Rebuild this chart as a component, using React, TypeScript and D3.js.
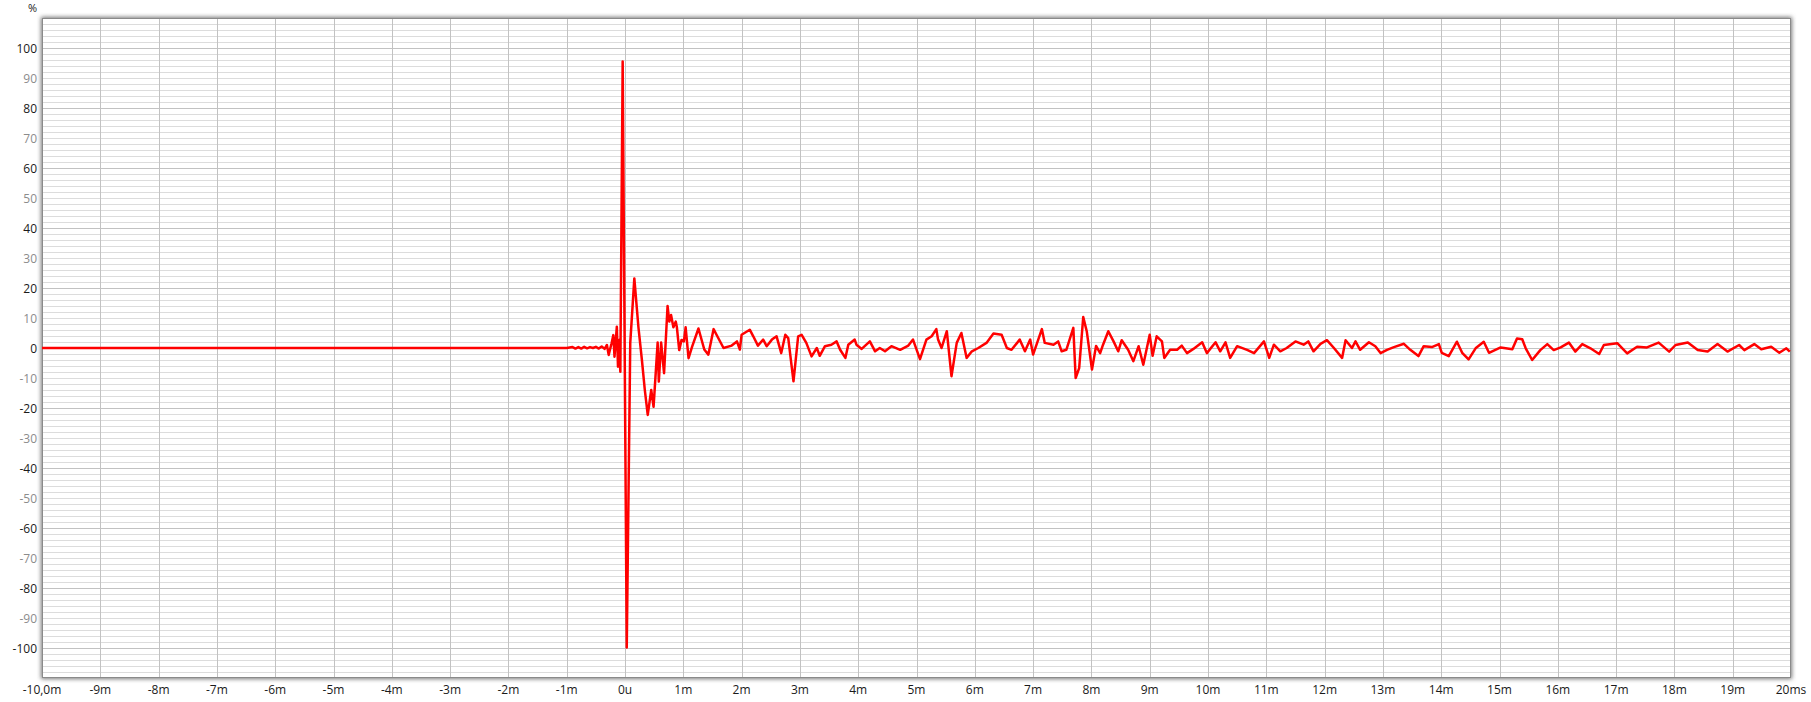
import * as d3 from "d3";
import { useEffect, useRef } from "react";

// impulse response, time in ms, amplitude in %
const times = [
  -10, -1.0, -0.9, -0.85, -0.8, -0.75, -0.7, -0.65, -0.6, -0.55, -0.5, -0.45,
  -0.4, -0.35, -0.31, -0.28, -0.23, -0.2, -0.18, -0.14, -0.12, -0.1, -0.08,
  -0.04, 0.03, 0.09, 0.16, 0.23, 0.29, 0.34, 0.39, 0.45, 0.49, 0.56, 0.58,
  0.62, 0.67, 0.73, 0.76, 0.79, 0.83, 0.87, 0.89, 0.93, 0.97, 1.01, 1.04,
  1.09, 1.15, 1.26, 1.36, 1.43, 1.52, 1.57, 1.69, 1.83, 1.92, 1.97, 2.0,
  2.14, 2.2, 2.28, 2.37, 2.43, 2.52, 2.6, 2.68, 2.75, 2.8, 2.89, 2.97, 3.03,
  3.11, 3.2, 3.29, 3.34, 3.43, 3.54, 3.63, 3.69, 3.78, 3.83, 3.94, 3.97,
  4.06, 4.2, 4.29, 4.37, 4.46, 4.57, 4.72, 4.86, 4.94, 5.06, 5.17, 5.26,
  5.34, 5.37, 5.43, 5.52, 5.6, 5.69, 5.77, 5.86, 5.95, 6.06, 6.2, 6.32,
  6.46, 6.55, 6.63, 6.77, 6.86, 6.95, 7.0, 7.15, 7.2, 7.35, 7.43, 7.49,
  7.57, 7.69, 7.73, 7.79, 7.86, 7.92, 8.01, 8.08, 8.15, 8.2, 8.29, 8.38,
  8.46, 8.52, 8.63, 8.72, 8.81, 8.89, 9.0, 9.05, 9.12, 9.21, 9.25, 9.35,
  9.47, 9.55, 9.64, 9.75, 9.9, 9.98, 10.13, 10.21, 10.3, 10.38, 10.5,
  10.67, 10.79, 10.96, 11.05, 11.13, 11.24, 11.35, 11.5, 11.64, 11.72,
  11.81, 11.93, 12.04, 12.16, 12.3, 12.36, 12.47, 12.53, 12.61, 12.76,
  12.87, 12.96, 13.07, 13.19, 13.36, 13.47, 13.61, 13.7, 13.84, 13.96,
  14.01, 14.13, 14.27, 14.36, 14.47, 14.59, 14.73, 14.82, 15.02, 15.22,
  15.3, 15.39, 15.45, 15.56, 15.7, 15.82, 15.93, 16.05, 16.19, 16.3, 16.42,
  16.56, 16.71, 16.79, 17.02, 17.19, 17.36, 17.53, 17.73, 17.91, 18.02,
  18.23, 18.4, 18.57, 18.74, 18.91, 19.11, 19.2, 19.37, 19.49, 19.66, 19.8,
  19.92, 19.98,
];

const amplitude = [
  0, 0, 0.3, -0.2, 0.3, -0.2, 0.4, -0.1, 0.3, 0, 0.4, -0.2,
  0.5, -0.3, 1, -2.3, 1.6, 4.3, -2.9, 7.1, -6.2, 2.7, -7.9,
  95.5, -99.8, 1.6, 23.2, 7, -4, -14, -22.3, -14, -19.6, 1.8, -11.2,
  1.8, -8.4, 14, 8.8, 11, 6.9, 8.8, 6.9, -0.7, 2.7, 2.2, 6.9,
  -3.4, 0.4, 6.5, -0.5, -2.2, 6.3, 4.4, 0, 0.8, 2.2, -0.5, 4.4,
  6.1, 3.9, 0.8, 2.8, 0.6, 2.8, 3.9, -1.7, 4.4, 3.3, -11.1, 3.9, 4.4,
  1.7, -2.8, 0, -2.6, 0.6, 1.1, 2.2, -0.6, -3.3, 1.1, 2.8, 1.1,
  -0.3, 2.2, -1.1, 0, -1.1, 0.6, -0.6, 0.8, 2.8, -3.7, 2.8, 3.9,
  6.3, 2.8, 0, 5.6, -9.4, 1.7, 5, -3.3, -1.1, 0, 1.7, 4.8,
  4.4, 0, -0.6, 2.8, -1.1, 2.8, -2.2, 6.3, 1.7, 1.1, 2.2, -1.1,
  -0.6, 6.7, -10, -6.7, 10.3, 5.6, -7.2, 0.7, -1.7, 1.1, 5.6, 2.2,
  -1.1, 2.6, -0.6, -4.4, 0.6, -5.6, 4.4, -2.6, 3.9, 2.2, -3.3, -0.6,
  -0.6, 0.8, -1.7, -0.3, 1.9, -1.7, 1.9, -1.1, 1.9, -3.3, 0.6,
  -0.6, -1.7, 2.2, -3.3, 1.1, -1.1, 0, 2.2, 1.1, 2.2,
  -1.1, 1.4, 2.6, 0, -3.3, 2.6, 0, 2.2, -0.6, 1.9,
  0.6, -1.7, -0.6, 0.3, 1.4, -0.6, -2.7, 0.6, 0.3, 1.3,
  -1.6, -2.7, 2.1, -1.6, -3.8, -0.1, 2.1, -1.6, 0.2, -0.4,
  3.2, 2.9, -0.1, -4, -0.7, 1.3, -0.7, 0.2, 1.8, -1.2, 1.3,
  -0.1, -2, 1, 1.6, -1.8, 0.4, 0.2, 1.8, -1.2, 1,
  1.8, -0.7, -1.2, 1.3, -1.2, 1, -0.7, 1.3, -0.4, 0.4, -1.6,
  -0.1, -1.2,
];

const xTicks = d3.range(-10, 21, 1);
const xTickLabels = [
  "-10,0m", "-9m", "-8m", "-7m", "-6m", "-5m", "-4m", "-3m", "-2m", "-1m",
  "0u", "1m", "2m", "3m", "4m", "5m", "6m", "7m", "8m", "9m", "10m", "11m",
  "12m", "13m", "14m", "15m", "16m", "17m", "18m", "19m", "20ms",
];
const yTicks = d3.range(-100, 101, 10);

const App = () => {
  const ref = useRef<SVGSVGElement | null>(null);

  useEffect(() => {
    const svg = d3.select(ref.current);
    svg.selectAll("*").remove();

    const width = 1811;
    const height = 702;
    svg.attr("width", width).attr("height", height);

    const left = 42;
    const right = 1791;
    const top = 18;
    const bottom = 678;

    const x = d3.scaleLinear().domain([-10, 20]).range([left, right]);
    const y = d3.scaleLinear().domain([-110, 110]).range([bottom, top]);

    const font = "'Open Sans', 'Noto Sans', sans-serif";

    // soft shadow round the plot frame
    const defs = svg.append("defs");
    const blur = defs
      .append("filter")
      .attr("id", "frameShadow")
      .attr("x", "-5%")
      .attr("y", "-5%")
      .attr("width", "110%")
      .attr("height", "110%");
    blur.append("feGaussianBlur").attr("stdDeviation", 2);

    svg
      .append("rect")
      .attr("x", left - 1)
      .attr("y", top - 1)
      .attr("width", right - left + 2)
      .attr("height", bottom - top + 2)
      .attr("fill", "#777")
      .attr("filter", "url(#frameShadow)");

    svg
      .append("rect")
      .attr("x", left)
      .attr("y", top)
      .attr("width", right - left)
      .attr("height", bottom - top)
      .attr("fill", "#fff");

    const grid = svg.append("g");

    // minor horizontal lines every 2 %
    grid
      .selectAll("line.minor")
      .data(d3.range(-108, 109, 2).filter((v) => v % 20 !== 0))
      .enter()
      .append("line")
      .attr("x1", left)
      .attr("x2", right)
      .attr("y1", (d) => Math.round(y(d)) + 0.5)
      .attr("y2", (d) => Math.round(y(d)) + 0.5)
      .attr("stroke", "#dcdcdc")
      .attr("stroke-width", 1);

    // major horizontal lines every 20 %
    grid
      .selectAll("line.major")
      .data(d3.range(-100, 101, 20))
      .enter()
      .append("line")
      .attr("x1", left)
      .attr("x2", right)
      .attr("y1", (d) => Math.round(y(d)) + 0.5)
      .attr("y2", (d) => Math.round(y(d)) + 0.5)
      .attr("stroke", "#c2c2c2")
      .attr("stroke-width", 1);

    // vertical lines every ms
    grid
      .selectAll("line.v")
      .data(xTicks.slice(1, -1))
      .enter()
      .append("line")
      .attr("x1", (d) => Math.round(x(d)) + 0.5)
      .attr("x2", (d) => Math.round(x(d)) + 0.5)
      .attr("y1", top)
      .attr("y2", bottom)
      .attr("stroke", "#c2c2c2")
      .attr("stroke-width", 1);

    // frame
    svg
      .append("rect")
      .attr("x", left + 0.5)
      .attr("y", top + 0.5)
      .attr("width", right - left - 1)
      .attr("height", bottom - top - 1)
      .attr("fill", "none")
      .attr("stroke", "#8a8a8a")
      .attr("stroke-width", 1);

    // response curve
    const points: [number, number][] = times.map((t, i) => [t, amplitude[i]]);
    const line = d3
      .line<[number, number]>()
      .x((d) => x(d[0]))
      .y((d) => y(d[1]));

    svg
      .append("path")
      .datum(points)
      .attr("d", line)
      .attr("fill", "none")
      .attr("stroke", "#f00")
      .attr("stroke-width", 2.5)
      .attr("stroke-linejoin", "round");

    // y labels
    svg
      .selectAll("text.y")
      .data(yTicks)
      .enter()
      .append("text")
      .attr("x", 37)
      .attr("y", (d) => y(d) + 4.5)
      .attr("text-anchor", "end")
      .style("font-family", font)
      .style("font-size", "12px")
      .style("fill", (d) => (d % 20 === 0 ? "#1a1a1a" : "#8c8c8c"))
      .text((d) => `${d}`);

    svg
      .append("text")
      .attr("x", 37)
      .attr("y", 12)
      .attr("text-anchor", "end")
      .style("font-family", font)
      .style("font-size", "11px")
      .style("fill", "#1a1a1a")
      .text("%");

    // x labels
    svg
      .selectAll("text.x")
      .data(xTicks)
      .enter()
      .append("text")
      .attr("x", (d) => x(d))
      .attr("y", 694)
      .attr("text-anchor", "middle")
      .style("font-family", font)
      .style("font-size", "12px")
      .style("fill", "#1a1a1a")
      .text((d, i) => xTickLabels[i]);
  }, []);

  return (
    <svg
      ref={ref}
      style={{ position: "absolute", left: 0, top: 0, display: "block" }}
    ></svg>
  );
};

export default App;
